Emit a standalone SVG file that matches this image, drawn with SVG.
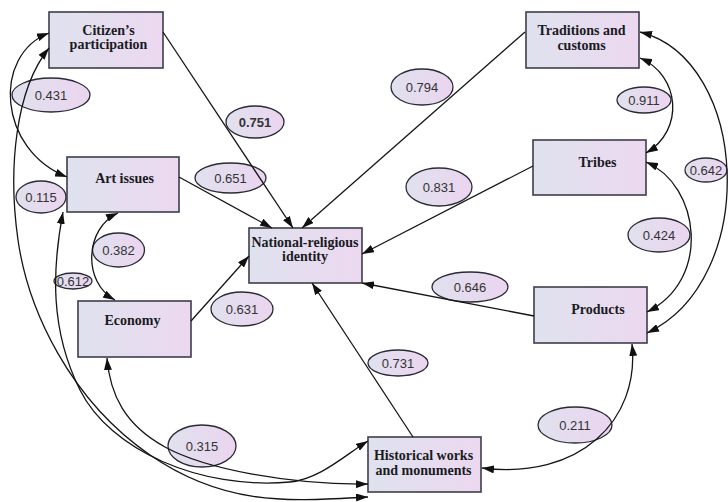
<svg xmlns="http://www.w3.org/2000/svg" width="728" height="502" viewBox="0 0 728 502">
<defs>
<linearGradient id="gb" x1="0" y1="0" x2="1" y2="0">
<stop offset="0" stop-color="#dfe2ee"/>
<stop offset="1" stop-color="#ecd8f0"/>
</linearGradient>
<linearGradient id="ge" x1="0" y1="0" x2="1" y2="0">
<stop offset="0" stop-color="#e0e1ee"/>
<stop offset="1" stop-color="#ebd5ef"/>
</linearGradient>
<marker id="ah" viewBox="0 0 12 8" refX="12" refY="4" markerWidth="12" markerHeight="8" markerUnits="userSpaceOnUse" orient="auto-start-reverse">
<path d="M0,0 L12,4 L0,8 z" fill="#111"/>
</marker>
</defs>
<style>
.box{fill:url(#gb);stroke:#3e3e4c;stroke-width:1.6}
.bt{font-family:"Liberation Serif","Times New Roman",serif;font-weight:bold;font-size:14px;fill:#1a1a22;text-anchor:middle}
.el{fill:url(#ge);stroke:#2a2a36;stroke-width:1.3}
.et{font-family:"Liberation Sans",Arial,sans-serif;font-size:13px;fill:#333;text-anchor:middle}
.c{fill:none;stroke:#151515;stroke-width:1.3;marker-end:url(#ah)}
.cc{fill:none;stroke:#151515;stroke-width:1.3;marker-end:url(#ah);marker-start:url(#ah)}
</style>
<rect width="728" height="502" fill="#fff"/>
<g id="nodes">
<g id="citizen"><rect class="box" x="49" y="12" width="114" height="56"/><text class="bt" x="108.5" y="35">Citizen’s</text><text class="bt" x="108.5" y="49">participation</text></g>
<g id="art"><rect class="box" x="67" y="157" width="112" height="55"/><text class="bt" x="124.5" y="183">Art issues</text></g>
<g id="economy"><rect class="box" x="78" y="301" width="113" height="56"/><text class="bt" x="132.5" y="325">Economy</text></g>
<g id="nri"><rect class="box" x="249" y="228" width="113" height="55"/><text class="bt" x="305" y="247">National-religious</text><text class="bt" x="305" y="261">identity</text></g>
<g id="traditions"><rect class="box" x="526" y="12" width="113" height="56"/><text class="bt" x="581.5" y="35">Traditions and</text><text class="bt" x="581.5" y="50">customs</text></g>
<g id="tribes"><rect class="box" x="533" y="140" width="113" height="55"/><text class="bt" x="597.5" y="167">Tribes</text></g>
<g id="products"><rect class="box" x="534" y="287" width="113" height="56"/><text class="bt" x="598" y="314">Products</text></g>
<g id="historical"><rect class="box" x="368" y="437" width="113" height="55"/><text class="bt" x="423.5" y="460">Historical works</text><text class="bt" x="423.5" y="475">and monuments</text></g>
</g>
<g id="labels">
<ellipse class="el" cx="51" cy="95" rx="39" ry="17"/><text class="et" x="51" y="100">0.431</text>
<ellipse class="el" cx="255" cy="122" rx="29" ry="16"/><text class="et" x="255" y="127" font-weight="bold">0.751</text>
<ellipse class="el" cx="230.5" cy="178" rx="35.5" ry="15"/><text class="et" x="230.5" y="183">0.651</text>
<ellipse class="el" cx="41" cy="197" rx="25" ry="16"/><text class="et" x="41" y="202">0.115</text>
<ellipse class="el" cx="118.5" cy="250" rx="26" ry="17"/><text class="et" x="118.5" y="255">0.382</text>
<ellipse class="el" cx="73" cy="281" rx="19" ry="8"/><text class="et" x="73" y="286">0.612</text>
<ellipse class="el" cx="242" cy="309" rx="31" ry="17"/><text class="et" x="242" y="314">0.631</text>
<ellipse class="el" cx="202" cy="446" rx="34" ry="21"/><text class="et" x="202" y="451">0.315</text>
<ellipse class="el" cx="398" cy="363" rx="30" ry="13"/><text class="et" x="398" y="368">0.731</text>
<ellipse class="el" cx="470" cy="287" rx="38" ry="15"/><text class="et" x="470" y="292">0.646</text>
<ellipse class="el" cx="575" cy="425" rx="37" ry="18"/><text class="et" x="575" y="430">0.211</text>
<ellipse class="el" cx="422" cy="87" rx="31" ry="18"/><text class="et" x="422" y="92">0.794</text>
<ellipse class="el" cx="439" cy="187" rx="33" ry="19"/><text class="et" x="439" y="192">0.831</text>
<ellipse class="el" cx="644" cy="100" rx="27" ry="13"/><text class="et" x="644" y="105">0.911</text>
<ellipse class="el" cx="706" cy="170" rx="21" ry="12"/><text class="et" x="706" y="175">0.642</text>
<ellipse class="el" cx="659" cy="235" rx="31" ry="17"/><text class="et" x="659" y="240">0.424</text>
</g>
<g id="connectors">
<line class="c" x1="163" y1="32" x2="293" y2="228"/>
<line class="c" x1="179" y1="177" x2="272" y2="228"/>
<line class="c" x1="525" y1="32" x2="302" y2="228"/>
<line class="c" x1="533" y1="166" x2="362" y2="254"/>
<line class="c" x1="534" y1="316" x2="362" y2="283"/>
<line class="c" x1="413" y1="437" x2="312" y2="283"/>
<line class="c" x1="191" y1="321" x2="249" y2="256"/>
<path class="cc" d="M49,33 C -8,55 -2,150 67,177"/>
<path class="cc" d="M49,48 C 15,90 8,170 18,240 S 70,400 150,455 S 300,500 368,497"/>
<path class="cc" d="M63,212 C 52,270 50,330 80,390 S 200,490 290,482 C 320,479 345,455 368,441"/>
<path class="cc" d="M118,213 C 85,228 82,282 115,300"/>
<path class="cc" d="M107,358 C 110,395 125,425 165,447 S 290,485 368,484"/>
<path class="cc" d="M640,58 C 680,75 685,130 646,153"/>
<path class="cc" d="M640,32 C 750,60 760,280 647,333"/>
<path class="cc" d="M646,162 C 700,185 712,280 647,312"/>
<path class="cc" d="M632,344 C 640,420 580,480 482,468"/>
</g>
</svg>
